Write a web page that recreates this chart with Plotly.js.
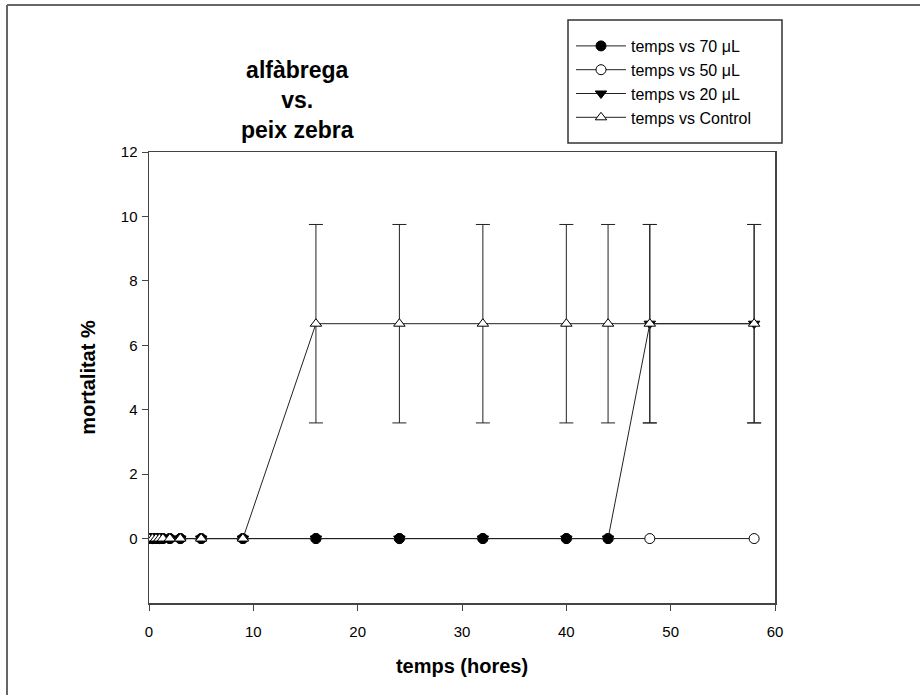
<!DOCTYPE html>
<html>
<head>
<meta charset="utf-8">
<script src="https://cdn.plot.ly/plotly-3.0.1.min.js"></script>
<style>html,body{margin:0;padding:0;background:#fff;}#chart{width:920px;height:695px;}</style>
</head>
<body>
<div id="chart"></div>
<script>
// Data
var times = [0, 0.33, 0.67, 1, 1.33, 2, 3, 5, 9, 16, 24, 32, 40, 44, 48, 58];
var times70 = [0, 0.33, 0.67, 1, 1.33, 2, 3, 5, 9, 16, 24, 32, 40, 44];
var mort70 = [0, 0, 0, 0, 0, 0, 0, 0, 0, 0, 0, 0, 0, 0];
var mort50 = [0, 0, 0, 0, 0, 0, 0, 0, 0, 0, 0, 0, 0, 0, 0, 0];
var mort20 = [0, 0, 0, 0, 0, 0, 0, 0, 0, 0, 0, 0, 0, 0, 6.67, 6.67];
var err20 = [0, 0, 0, 0, 0, 0, 0, 0, 0, 0, 0, 0, 0, 0, 3.08, 3.08];
var mortControl = [0, 0, 0, 0, 0, 0, 0, 0, 0, 6.67, 6.67, 6.67, 6.67, 6.67, 6.67, 6.67];
var errControl = [0, 0, 0, 0, 0, 0, 0, 0, 0, 3.08, 3.08, 3.08, 3.08, 3.08, 3.08, 3.08];
var names = ['temps vs 70 \u03BCL', 'temps vs 50 \u03BCL', 'temps vs 20 \u03BCL', 'temps vs Control'];
var xTicks = [0, 10, 20, 30, 40, 50, 60];
var yTicks = [0, 2, 4, 6, 8, 10, 12];

var lineStyle = {color: '#222', width: 1};
var errStyle = {type: 'data', symmetric: true, color: '#222', thickness: 1, width: 7};

var traces = [
  {x: times, y: mort50, name: names[1], legendrank: 2, mode: 'lines+markers', type: 'scatter',
   line: lineStyle, marker: {symbol: 'circle', size: 10, color: '#fff', line: {color: '#000', width: 1}}},
  {x: times70, y: mort70, name: names[0], legendrank: 1, mode: 'lines+markers', type: 'scatter',
   line: lineStyle, marker: {symbol: 'circle', size: 10, color: '#000', line: {color: '#000', width: 1}}},
  {x: times, y: mort20, name: names[2], legendrank: 3, mode: 'lines+markers', type: 'scatter',
   line: lineStyle, error_y: Object.assign({array: err20}, errStyle),
   marker: {symbol: 'triangle-down', size: 10, color: '#000', line: {color: '#000', width: 1}}},
  {x: times, y: mortControl, name: names[3], legendrank: 4, mode: 'lines+markers', type: 'scatter',
   line: lineStyle, error_y: Object.assign({array: errControl}, errStyle),
   marker: {symbol: 'triangle-up', size: 10, color: '#fff', line: {color: '#000', width: 1}}}
];

function px(x) { return (x - 149) / 626; }
function py(y) { return (603 - y) / 451; }

var font = 'Liberation Sans, Arial, sans-serif';
var layout = {
  width: 920, height: 695,
  margin: {l: 149, r: 145, t: 152, b: 92},
  paper_bgcolor: '#fff', plot_bgcolor: '#fff',
  font: {family: font, color: '#000', size: 15},
  showlegend: true,
  legend: {x: px(571), y: py(29), xanchor: 'left', yanchor: 'top', bgcolor: 'rgba(0,0,0,0)',
    borderwidth: 0, font: {family: font, size: 16, color: '#000'},
    tracegroupgap: 0, itemwidth: 50},
  xaxis: {range: [0, 60], tickvals: xTicks, ticktext: xTicks.map(String), ticks: 'outside', ticklen: 6,
    tickcolor: '#444', linecolor: '#444', linewidth: 1.5, mirror: true, showgrid: false, zeroline: false,
    ticklabelstandoff: 8,
    tickfont: {size: 15}, title: {text: '<b>temps (hores)</b>', font: {size: 20}, standoff: 20}},
  yaxis: {range: [-2, 12], tickvals: yTicks, ticktext: yTicks.map(String), ticks: 'outside', ticklen: 6,
    tickcolor: '#444', linecolor: '#444', linewidth: 1.5, mirror: true, showgrid: false, zeroline: false,
    ticklabelstandoff: 1,
    tickfont: {size: 15}, title: {text: '<b>mortalitat %</b>', font: {size: 20}, standoff: 20}},
  annotations: [{xref: 'paper', yref: 'paper', x: px(297), y: py(100),
    xanchor: 'center', yanchor: 'middle', showarrow: false, align: 'center',
    text: '<b>alf\u00E0brega<br>vs.<br>peix zebra</b>', font: {family: font, size: 23, color: '#000'}}],
  shapes: [
    {type: 'rect', xref: 'paper', yref: 'paper', x0: px(568), x1: px(782), y0: py(20), y1: py(143),
     line: {color: '#333', width: 1.5}, fillcolor: 'rgba(0,0,0,0)', layer: 'below'},
    {type: 'line', xref: 'paper', yref: 'paper', x0: px(7), x1: px(920),
     y0: py(5), y1: py(5), line: {color: '#666', width: 2}},
    {type: 'line', xref: 'paper', yref: 'paper', x0: px(7), x1: px(7),
     y0: py(5), y1: py(700), line: {color: '#666', width: 2}}
  ]
};

Plotly.newPlot('chart', traces, layout, {displayModeBar: false, staticPlot: true});
</script>
</body>
</html>
